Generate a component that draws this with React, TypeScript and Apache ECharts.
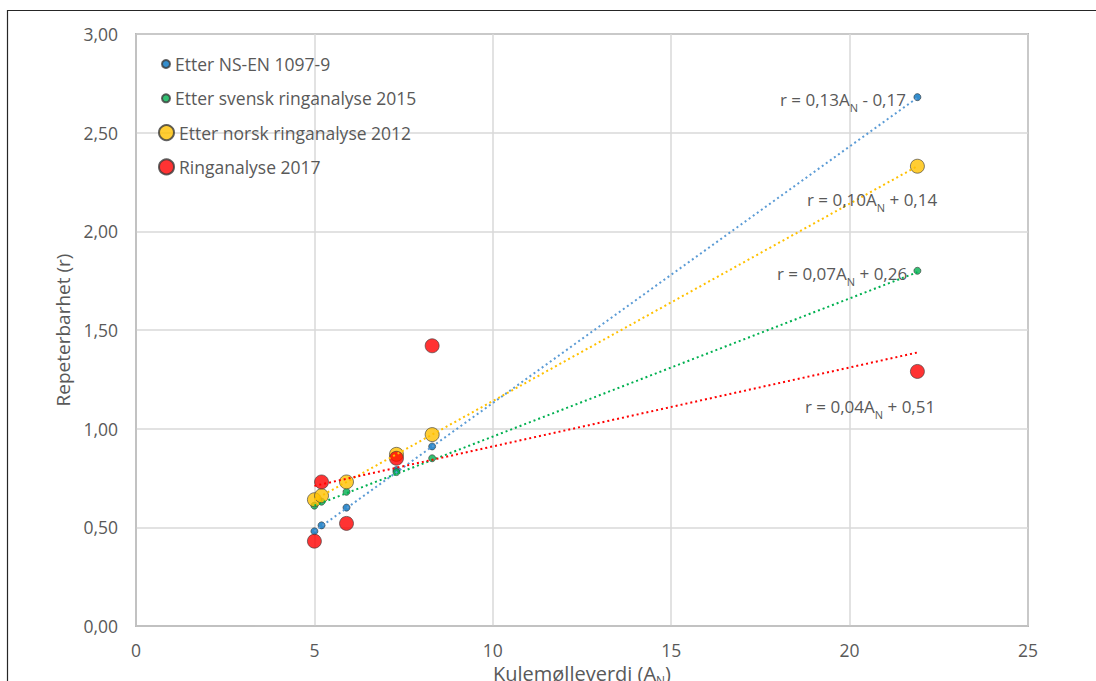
import React, { useEffect, useRef } from "react";
import * as echarts from "echarts";

// Kulemølleverdi (A_N) for the six materials
const anValues = [5.0, 5.2, 5.9, 7.3, 8.3, 21.9];

// Repeterbarhet (r) per method
const nsEn = [0.48, 0.51, 0.6, 0.79, 0.91, 2.68];
const svensk2015 = [0.61, 0.63, 0.68, 0.78, 0.85, 1.8];
const norsk2012 = [0.64, 0.66, 0.73, 0.87, 0.97, 2.33];
const ring2017 = [0.43, 0.73, 0.52, 0.85, 1.42, 1.29];

const seriesNames = [
  "Etter NS-EN 1097-9",
  "Etter svensk ringanalyse 2015",
  "Etter norsk ringanalyse 2012",
  "Ringanalyse 2017",
];

// Linear trend coefficients r = a·A_N + b
const slopes = [0.13, 0.07, 0.1, 0.04];
const intercepts = [-0.17, 0.26, 0.14, 0.51];

const yTicks = [0, 0.5, 1, 1.5, 2, 2.5, 3];
const xTicks = [0, 5, 10, 15, 20, 25];

const FONT = "Open Sans";
const GREY = "#595959";

const markerColors = ["#0070c0", "#00b050", "#ffc000", "#ff0000"];
const trendColors = ["#5b9bd5", "#00b050", "#ffc000", "#ff0000"];
const markerSizes = [7, 7, 14, 14];

const fmt = (v: number, d: number) => v.toFixed(d).replace(".", ",");

export default function App() {
  const ref = useRef<HTMLDivElement>(null);

  useEffect(() => {
    document.body.style.margin = "0";
    const chart = echarts.init(ref.current!, null, { renderer: "svg" });

    const seriesData = [nsEn, svensk2015, norsk2012, ring2017];

    const scatter = seriesData.map((vals, i) => ({
      type: "scatter",
      name: seriesNames[i],
      data: anValues.map((x, k) => [x, vals[k]]),
      symbol: "circle",
      symbolSize: markerSizes[i],
      itemStyle: {
        color: markerColors[i],
        borderColor: "#3a3a3a",
        borderWidth: 0.8,
      },
      z: 3,
    }));

    const xMin = Math.min(...anValues);
    const xMax = Math.max(...anValues);
    const trends = slopes.map((a, i) => ({
      type: "line",
      name: "trend-" + i,
      data: [
        [xMin, a * xMin + intercepts[i]],
        [xMax, a * xMax + intercepts[i]],
      ],
      showSymbol: false,
      symbol: "none",
      silent: true,
      lineStyle: { color: trendColors[i], width: 2, type: [2, 3] },
      z: 4,
    }));

    const eq = (i: number) => {
      const a = fmt(slopes[i], 2);
      const b = intercepts[i];
      const sign = b < 0 ? " - " : " + ";
      return `{t|r = ${a}A}{s|N}{t|${sign}${fmt(Math.abs(b), 2)}}`;
    };
    const richEq = {
      t: { fontFamily: FONT, fontSize: 17, fill: GREY, lineHeight: 22 },
      s: {
        fontFamily: FONT,
        fontSize: 11,
        fill: GREY,
        lineHeight: 12,
        verticalAlign: "bottom",
        padding: [0, 0, -3, 0],
      },
    };
    const labelPos = [
      [780, 99],
      [777, 273],
      [807, 199],
      [805, 406],
    ];

    const legends = seriesNames.map((n, i) => ({
      data: [n],
      orient: "vertical",
      left: markerSizes[i] > 10 ? 158 : 161,
      top: 64 + i * 34.3 - 11,
      itemWidth: markerSizes[i] + 1,
      itemHeight: markerSizes[i] + 1,
      icon: "circle",
      itemGap: 0,
      padding: 0,
      textStyle: { fontFamily: FONT, fontSize: 17.5, color: GREY, lineHeight: 22 },
    }));

    chart.setOption({
      animation: false,
      backgroundColor: "#ffffff",
      legend: legends,
      grid: {
        left: 136,
        right: 68,
        top: 34,
        bottom: 55,
        outerBoundsMode: "none",
        containLabel: false,
        show: true,
        borderColor: "#7a7a7a",
        borderWidth: 1.5,
      },
      xAxis: {
        type: "value",
        min: xTicks[0],
        max: xTicks[xTicks.length - 1],
        interval: 5,
        name: "{t|Kulemølleverdi (A}{s|N}{t|)}",
        nameLocation: "middle",
        nameGap: 31,
        nameTextStyle: {
          rich: {
            t: { fontFamily: FONT, fontSize: 20, color: GREY, lineHeight: 22 },
            s: {
              fontFamily: FONT,
              fontSize: 12,
              color: GREY,
              lineHeight: 12,
              verticalAlign: "bottom",
              padding: [0, 0, -2, 0],
            },
          },
        },
        axisLine: { show: true, lineStyle: { color: "#bfbfbf", width: 1.5 } },
        axisTick: { show: false },
        axisLabel: {
          fontFamily: FONT,
          fontSize: 17.5,
          color: GREY,
          margin: 15,
          formatter: (v: number) => String(v),
        },
        splitLine: { show: true, lineStyle: { color: "#d9d9d9", width: 1.5 } },
      },
      yAxis: {
        type: "value",
        min: yTicks[0],
        max: yTicks[yTicks.length - 1],
        interval: 0.5,
        name: "Repeterbarhet (r)",
        nameLocation: "middle",
        nameGap: 59,
        nameTextStyle: { fontFamily: FONT, fontSize: 19, color: GREY },
        axisLine: { show: true, lineStyle: { color: "#bfbfbf", width: 1.5 } },
        axisTick: { show: false },
        axisLabel: {
          fontFamily: FONT,
          fontSize: 17.5,
          color: GREY,
          margin: 18,
          formatter: (v: number) => fmt(v, 2),
        },
        splitLine: { show: true, lineStyle: { color: "#d9d9d9", width: 1.5 } },
      },
      graphic: [
        {
          type: "rect",
          shape: { x: 7.5, y: 10.5, width: 1200, height: 800 },
          style: { fill: "none", stroke: "#262626", lineWidth: 1.2 },
          silent: true,
          z: 0,
        },
        ...labelPos.map((p, i) => ({
          type: "text",
          x: p[0],
          y: p[1],
          z: 10,
          style: {
            text: eq(i),
            rich: richEq,
            fill: GREY,
            verticalAlign: "middle",
            align: "left",
          },
        })),
      ],
      series: [...scatter, ...trends],
    });

    return () => chart.dispose();
  }, []);

  return (
    <div
      ref={ref}
      style={{ position: "absolute", left: 0, top: 0, width: 1096, height: 681 }}
    />
  );
}
